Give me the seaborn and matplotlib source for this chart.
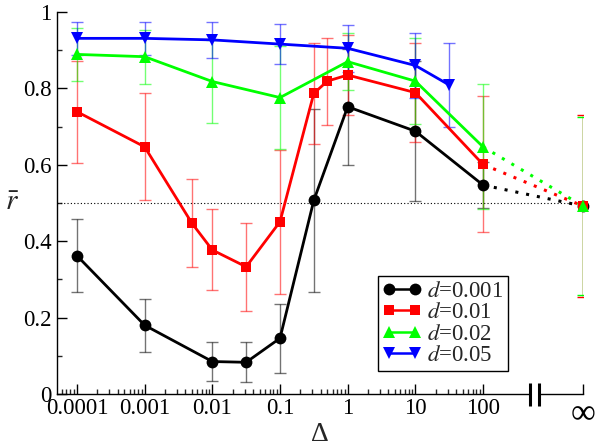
import numpy as np
import pandas as pd
import matplotlib
matplotlib.use("Agg")
import matplotlib.pyplot as plt
import seaborn as sns
from matplotlib.ticker import FixedLocator, FixedFormatter
from matplotlib.lines import Line2D

# ---------------- data ----------------
x_black = [1e-4, 1e-3, 1e-2, 0.0316, 0.1, 0.316, 1, 10, 100]
y_black = [0.362, 0.180, 0.085, 0.083, 0.146, 0.507, 0.752, 0.688, 0.547]
e_black = [0.095, 0.070, 0.050, 0.052, 0.090, 0.240, 0.152, 0.183, 0.061]
inf_black = 0.492

x_red = [1e-4, 1e-3, 5e-3, 1e-2, 0.0316, 0.1, 0.316, 0.5, 1, 10, 100]
y_red = [0.739, 0.647, 0.447, 0.377, 0.333, 0.451, 0.787, 0.819, 0.835, 0.789, 0.601]
e_red = [0.133, 0.140, 0.115, 0.106, 0.115, 0.188, 0.132, 0.114, 0.105, 0.129, 0.178]
inf_red = 0.492
inf_e_red = 0.238

x_green = [1e-4, 1e-3, 1e-2, 0.1, 1, 10, 100]
y_green = [0.889, 0.883, 0.818, 0.776, 0.870, 0.819, 0.647]
e_green = [0.069, 0.071, 0.109, 0.135, 0.075, 0.112, 0.164]
inf_green = 0.492
inf_e_green = 0.232

x_blue = [1e-4, 1e-3, 1e-2, 0.1, 1, 10, 31.6]
y_blue = [0.931, 0.931, 0.927, 0.916, 0.905, 0.860, 0.809]
e_blue = [0.043, 0.044, 0.047, 0.052, 0.061, 0.085, 0.110]

labels = ["0.001", "0.01", "0.02", "0.05"]
x_tick_labels = ["0.0001", "0.001", "0.01", "0.1", "1", "10", "100", "\u221e"]
y_tick_labels = ["0", "0.2", "0.4", "0.6", "0.8", "1"]

# position on the log axis standing in for "infinity"
X_INF = 3000.0

# ---------------- style ----------------
sns.set_style("ticks")
plt.rcParams["font.family"] = ["Liberation Serif", "DejaVu Serif"]
plt.rcParams["mathtext.fontset"] = "stix"

fig = plt.figure(figsize=(6.0, 4.46), dpi=100)
ax = fig.add_axes([57 / 600, 1 - 394 / 446, (583 - 57) / 600, (394 - 12) / 446])

series = [
    ("black", "o", 8.5, x_black, y_black, e_black, inf_black, None),
    ("#ff0000", "s", 7.4, x_red, y_red, e_red, inf_red, inf_e_red),
    ("#00ff00", "^", 8.7, x_green, y_green, e_green, inf_green, inf_e_green),
    ("#0000ff", "v", 8.7, x_blue, y_blue, e_blue, None, None),
]

for i, (col, mk, ms, xs, ys, es, yinf, einf) in enumerate(series):
    # error bars
    ax.errorbar(xs, ys, yerr=es, fmt="none", ecolor=col, alpha=0.55,
                elinewidth=1.0, capsize=4.3, capthick=1.0, zorder=2 + i * 0.1)
    if einf is not None:
        ax.errorbar([X_INF], [yinf], yerr=[einf], fmt="none", ecolor=col,
                    alpha=1.0, elinewidth=1.0, capsize=4.3, capthick=1.0,
                    zorder=2.5 + i * 0.1)
    df = pd.DataFrame({"x": xs, "y": ys})
    sns.lineplot(data=df, x="x", y="y", ax=ax, color=col, marker=mk,
                 markersize=ms, markeredgecolor=col, markeredgewidth=0,
                 linewidth=2.0, sort=False, errorbar=None, legend=False,
                 zorder=4 + i * 0.1)
    if yinf is not None:
        dd = pd.DataFrame({"x": [xs[-1], X_INF], "y": [ys[-1], yinf]})
        sns.lineplot(data=dd, x="x", y="y", ax=ax, color=col,
                     linestyle=(0, (1, 2.6)), linewidth=2.2, sort=False,
                     errorbar=None, legend=False, zorder=3 + i * 0.1)

# infinity markers, drawn last so the later series sit on top
for i, (col, mk, ms, xs, ys, es, yinf, einf) in enumerate(series):
    if yinf is not None:
        ax.plot([X_INF], [yinf], linestyle="none", marker=mk, markersize=ms,
                color=col, markeredgewidth=0, clip_on=False, zorder=6 + i * 0.1)

ax.axhline(0.5, color="black", linewidth=0.8, linestyle=(0, (1, 2)), zorder=1)

ax.set_xscale("log")
ax.set_xlim(10 ** -4.295, X_INF)
ax.set_ylim(0, 1)

major_x = [1e-4, 1e-3, 1e-2, 1e-1, 1, 10, 100, X_INF]
ax.xaxis.set_major_locator(FixedLocator(major_x))
ax.xaxis.set_major_formatter(FixedFormatter(x_tick_labels))
minor_x = [m * 10.0 ** e for e in range(-5, 2) for m in range(2, 10)]
minor_x = [v for v in minor_x if 10 ** -4.295 < v < 100]
ax.xaxis.set_minor_locator(FixedLocator(minor_x))
ax.xaxis.set_minor_formatter(FixedFormatter([""] * len(minor_x)))

ax.yaxis.set_major_locator(FixedLocator([0, 0.2, 0.4, 0.6, 0.8, 1.0]))
ax.yaxis.set_major_formatter(FixedFormatter(y_tick_labels))
ax.yaxis.set_minor_locator(FixedLocator([0.1, 0.3, 0.5, 0.7, 0.9]))

ax.tick_params(which="major", direction="in", length=7, width=1.0,
               labelsize=16.5, pad=4, colors="black")
ax.tick_params(which="minor", direction="in", length=3.5, width=1.0)
ax.tick_params(axis="x", which="major", pad=3)

fig.canvas.draw()
xt = ax.get_xticklabels()
xt[-1].set_fontsize(25)
xt[-1].set_va("top")

for s in ["top", "right"]:
    ax.spines[s].set_visible(False)
for s in ["left", "bottom"]:
    ax.spines[s].set_linewidth(1.0)
    ax.spines[s].set_color("black")

# axis break marks
trans = ax.get_xaxis_transform()
ax.plot([494, 665], [0, 0], color="white", linewidth=2.5, transform=trans,
        clip_on=False, zorder=6, solid_capstyle="butt")
for xb in (494, 665):
    ax.plot([xb, xb], [-0.031, 0.029], color="black", linewidth=2.2,
            transform=trans, clip_on=False, zorder=7, solid_capstyle="butt")

ax.set_xlabel("\u0394", fontsize=20, labelpad=0)
ax.xaxis.set_label_coords(0.5, -(441 - 394) / 382)
ax.xaxis.label.set_va("baseline")
ax.set_ylabel(r"$\bar{r}$", fontsize=21, rotation=0, labelpad=8,
              va="center")

# legend
handles = []
for (col, mk, ms, *_rest) in series:
    handles.append(Line2D([], [], color=col, marker=mk, markersize=ms,
                          markeredgewidth=0, linewidth=1.8))
leg = ax.legend(handles, [f"$d$=" + l for l in labels], loc="lower right",
                bbox_to_anchor=((508 - 57) / 526, (394 - 371) / 382),
                borderaxespad=0, numpoints=2, fontsize=16.5, frameon=True,
                fancybox=False, edgecolor="black", framealpha=1,
                handlelength=1.7, handletextpad=0.25, labelspacing=0.02,
                borderpad=0.2)
leg.get_frame().set_linewidth(1.0)

fig.savefig("out.png", dpi=100)
